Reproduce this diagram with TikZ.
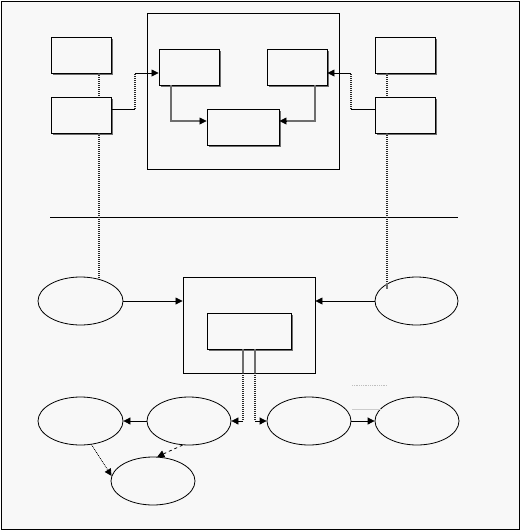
\documentclass[tikz,border=0pt]{standalone}
\usetikzlibrary{arrows.meta,shapes.geometric,shadows,calc}
\definecolor{bg}{RGB}{248,248,248}
\definecolor{shd}{RGB}{110,110,110}
\tikzset{
  boxnode/.style={draw=black,line width=0.9pt,fill=bg,minimum width=60pt,minimum height=36pt,inner sep=0pt,
    drop shadow={shadow xshift=2pt,shadow yshift=-2pt,fill=shd,opacity=1}},
  ellnode/.style={ellipse,draw=black,line width=0.8pt,fill=bg,minimum width=85pt,minimum height=48pt,inner sep=0pt},
  frame/.style={draw=black,line width=0.9pt},
  conn/.style={draw=black,line width=0.8pt},
  grayconn/.style={draw=shd,line width=1.5pt},
  dotconn/.style={draw=black!85,line width=1.3pt,dash pattern=on 1pt off 1pt},
  tip/.style={-{Triangle[length=7pt,width=7pt]}},
}
\begin{document}
\begin{tikzpicture}[x=1pt,y=-1pt]
\useasboundingbox (0,0) rectangle (521,531);
\fill[white] (0,0) rectangle (521,531);
\draw[frame,fill=bg] (1,1) rectangle (519,529);

% top container
\node[frame,fill=bg,minimum width=192pt,minimum height=156pt,inner sep=0pt] (topc) at (243,91) {};
\node[boxnode] (b1) at (189,67) {};
\node[boxnode] (b2) at (297,67) {};
\node[boxnode,minimum width=72pt] (b3) at (243,127) {};

% side boxes
\node[boxnode] (a1) at (81,55) {};
\node[boxnode] (a2) at (81,115) {};
\node[boxnode] (c1) at (405,55) {};
\node[boxnode] (c2) at (405,115) {};

% separator line
\coordinate (sepl) at (50,217);
\coordinate (sepr) at (458,217);
\draw[conn] (sepl) -- (sepr);

% middle row
\node[ellnode] (e1) at (80.5,301) {};
\node[ellnode,minimum width=83pt] (e2) at (416.5,301) {};
\node[frame,fill=bg,minimum width=132pt,minimum height=96pt,inner sep=0pt] (midc) at (249,325) {};
\node[boxnode,minimum width=84pt] (ib) at (249,331) {};

% bottom ellipses
\node[ellnode] (e3) at (80.5,421) {};
\node[ellnode,minimum width=84pt] (e4) at (189,421) {};
\node[ellnode,minimum width=84pt] (e5) at (309,421) {};
\node[ellnode,minimum width=84pt] (e6) at (417,421) {};
\node[ellnode,minimum width=84pt] (e7) at (153,481) {};

% top connectors
\coordinate (ka) at (135,109);
\coordinate (kb) at (135,73);
\draw[conn] ([yshift=6pt]a2.east) -- (ka);
\draw[dotconn] (ka) -- (kb);
\draw[conn,tip] (kb) -- ([yshift=-6pt]b1.west);

\coordinate (kc) at (351,109);
\coordinate (kd) at (351,73);
\draw[conn] ([yshift=6pt]c2.west) -- (kc);
\draw[dotconn] (kc) -- (kd);
\draw[conn,tip] (kd) -- ([yshift=-6pt]b2.east);

\draw[grayconn] ([xshift=-18pt]b1.south) |- ([yshift=6pt,xshift=-7pt]b3.west);
\draw[conn,tip] ([yshift=6pt,xshift=-7pt]b3.west) -- ([yshift=6pt]b3.west);
\draw[grayconn] ([xshift=18pt]b2.south) |- ([yshift=6pt,xshift=7pt]b3.east);
\draw[conn,tip] ([yshift=6pt,xshift=7pt]b3.east) -- ([yshift=6pt]b3.east);

% vertical dotted links
\draw[dotconn] ([xshift=18pt]a1.south) -- ([xshift=18pt]a2.north);
\coordinate (ke1) at (99,279);
\draw[dotconn] ([xshift=18pt]a2.south) -- (ke1);
\draw[dotconn] ([xshift=-18pt]c1.south) -- ([xshift=-18pt]c2.north);
\coordinate (ke2) at (387,283);
\draw[dotconn] ([xshift=-18pt]c2.south) -- (ke2);
\draw[draw=shd,line width=1.2pt] (ke2) -- ++(0,6);

% middle arrows
\draw[conn,tip] (e1.east) -- (e1.east -| midc.west);
\draw[conn,tip] (e2.west) -- (e2.west -| midc.east);

% from inner box down
\coordinate (l1) at (243,373);
\coordinate (l2) at (243,421);
\coordinate (r1) at (255,373);
\coordinate (r2) at (255,421);
\draw[grayconn] ([xshift=-6pt]ib.south) -- (l1);
\draw[grayconn] ([xshift=6pt]ib.south) -- (r1);
\draw[dotconn] (l1) -- (l2);
\draw[dotconn] (r1) -- (r2);
\draw[conn,tip] (l2) -- (e4.east);
\draw[conn,tip] (r2) -- (e5.west);

% bottom arrows
\draw[conn,tip] (e4.west) -- (e3.east);
\draw[conn,tip] (e5.east) -- (e6.west);
\draw[conn,dashed,tip] (e4.-105) -- (e7.80);
\draw[conn,densely dotted,tip] (e3.-65) -- (e7.173);

% faint artifacts
\draw[gray!50,densely dotted,line width=0.8pt] (352,385) -- (387,385);
\draw[gray!40,line width=0.8pt] (352,409) -- (381,409);
\end{tikzpicture}
\end{document}
